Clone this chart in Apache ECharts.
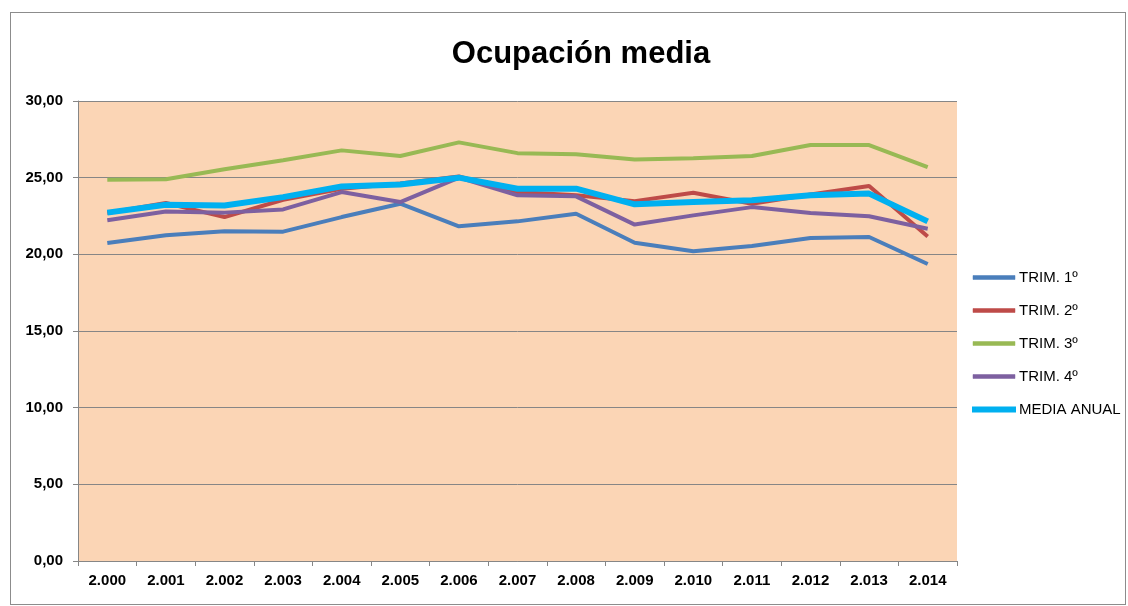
<!DOCTYPE html>
<html>
<head>
<meta charset="utf-8">
<script src="https://cdn.jsdelivr.net/npm/echarts@6/dist/echarts.min.js"></script>
<style>
  html, body { margin: 0; padding: 0; background: #fff; }
  #wrap { position: absolute; left: 10px; top: 12px; width: 1116px; height: 593px; border: 1px solid #8c8c8c; box-sizing: border-box; }
  #chart { position: absolute; left: 0; top: 0; width: 1128px; height: 606px; }
</style>
</head>
<body>
<div id="wrap"></div>
<div id="chart"></div>
<script>
// categories (años)
var years = ["2.000", "2.001", "2.002", "2.003", "2.004", "2.005", "2.006", "2.007",
  "2.008", "2.009", "2.010", "2.011", "2.012", "2.013", "2.014"];

// series values
var trim1 = [20.74, 21.24, 21.50, 21.48, 22.43, 23.30, 21.83, 22.15, 22.65, 20.76, 20.20, 20.54, 21.06, 21.13, 19.37];
var trim2 = [22.70, 23.35, 22.43, 23.56, 24.28, 24.62, 25.08, 24.06, 23.85, 23.47, 24.02, 23.30, 23.90, 24.45, 21.17];
var trim3 = [24.87, 24.90, 25.55, 26.13, 26.78, 26.41, 27.30, 26.60, 26.52, 26.19, 26.26, 26.41, 27.13, 27.13, 25.69];
var trim4 = [22.22, 22.80, 22.72, 22.93, 24.06, 23.41, 25.00, 23.85, 23.78, 21.94, 22.54, 23.08, 22.70, 22.48, 21.67];
var mediaAnual = [22.72, 23.24, 23.19, 23.73, 24.43, 24.56, 25.00, 24.28, 24.28, 23.26, 23.41, 23.52, 23.85, 23.96, 22.15];

var seriesNames = ["TRIM. 1º", "TRIM. 2º", "TRIM. 3º", "TRIM. 4º", "MEDIA ANUAL"];
var seriesColors = ["#4a7ebb", "#be4b48", "#98b954", "#7d60a0", "#00b0f0"];

var chart = echarts.init(document.getElementById("chart"));

function lineSeries(i, data, width) {
  return {
    name: seriesNames[i],
    type: "line",
    data: data,
    symbol: "none",
    color: seriesColors[i],
    lineStyle: { width: width, color: seriesColors[i] },
    z: i === 4 ? 5 : 2 + i * 0.1
  };
}

var option = {
  animation: false,
  title: {
    text: "Ocupación media",
    left: 576,
    top: 34,
    textAlign: "center",
    textStyle: { fontFamily: "Liberation Sans", fontSize: 31, fontWeight: "bold", color: "#000" }
  },
  legend: {
    orient: "vertical",
    left: 967,
    top: 265,
    itemGap: 18,
    itemWidth: 42,
    itemHeight: 10,
    icon: "path://M0,3 L42,3 L42,7 L0,7 Z",
    textStyle: { fontFamily: "Liberation Sans", fontSize: 15, color: "#000", padding: [0, 0, 0, -1] },
    data: seriesNames.map(function (n, i) {
      return { name: n, itemStyle: { color: seriesColors[i], borderColor: seriesColors[i], borderWidth: i === 4 ? 2 : 0.5 } };
    })
  },
  grid: {
    left: 78,
    right: 171,
    top: 101,
    bottom: 45,
    show: true,
    backgroundColor: "#fbd5b5",
    borderWidth: 0
  },
  xAxis: {
    type: "category",
    data: years,
    boundaryGap: true,
    axisLine: { show: true, lineStyle: { color: "#868686", width: 1 } },
    axisTick: { show: true, length: 5, lineStyle: { color: "#868686" } },
    axisLabel: {
      color: "#000",
      fontFamily: "Liberation Sans",
      fontWeight: "bold",
      fontSize: 15,
      margin: 12
    }
  },
  yAxis: {
    type: "value",
    min: 0,
    max: 30,
    interval: 5,
    axisLine: { show: true, lineStyle: { color: "#868686", width: 1 } },
    axisTick: { show: true, length: 5, lineStyle: { color: "#868686" } },
    splitLine: { show: true, lineStyle: { color: "#868686", width: 1 } },
    axisLabel: {
      color: "#000",
      fontFamily: "Liberation Sans",
      fontWeight: "bold",
      fontSize: 15,
      margin: 15,
      formatter: function (v) { return v.toFixed(2).replace(".", ","); }
    }
  },
  series: [
    lineSeries(0, trim1, 4),
    lineSeries(1, trim2, 4),
    lineSeries(2, trim3, 4),
    lineSeries(3, trim4, 4),
    lineSeries(4, mediaAnual, 6)
  ]
};

chart.setOption(option);
window.addEventListener("resize", function () {
  chart.resize();
});
</script>
</body>
</html>
